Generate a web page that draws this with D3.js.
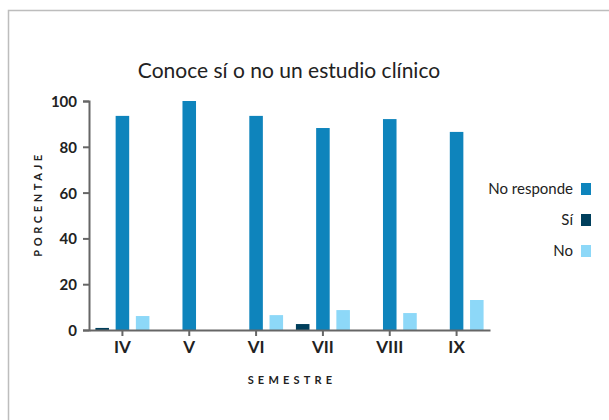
<!DOCTYPE html>
<html>
<head>
<meta charset="utf-8">
<script src="https://cdn.jsdelivr.net/npm/d3@7"></script>
<style>
  body { margin: 0; background: #fff; }
  svg { display: block; font-family: 'Lato', 'Open Sans', sans-serif; }
</style>
</head>
<body>
<svg id="chart"></svg>
<script>
const semesters = ['IV', 'V', 'VI', 'VII', 'VIII', 'IX'];
const seriesNames = ['Sí', 'No responde', 'No'];
const siValues = [0.9, 0, 0, 2.6, 0, 0];
const noRespondeValues = [93.5, 100, 93.5, 88.2, 92.1, 86.5];
const noValues = [6.1, 0, 6.5, 8.7, 7.4, 13.1];
const seriesColors = ['#003F5C', '#0E84BC', '#8DD8F8'];
const yTicks = [0, 20, 40, 60, 80, 100];
const legendOrder = ['No responde', 'Sí', 'No'];

const width = 609, height = 420;
const margin = { left: 89, right: 119, top: 101, bottom: 90 };

const svg = d3.select('#chart').attr('width', width).attr('height', height);

// frame
svg.append('path')
  .attr('d', 'M8.5,' + (height + 5) + ' V10.5 H' + (width + 5))
  .attr('fill', 'none')
  .attr('stroke', '#bdbdbd')
  .attr('stroke-width', 1.5);

const x = d3.scaleBand().domain(semesters).range([margin.left, width - margin.right]);
const xs = d3.scaleBand().domain(seriesNames).range([-27, 27]).paddingInner(0.33);
const y = d3.scaleLinear().domain([0, 100]).range([height - margin.bottom, margin.top]);

const series = [siValues, noRespondeValues, noValues];
const rows = [];
series.forEach(function(vals, i) {
  vals.forEach(function(v, j) {
    rows.push({ sem: semesters[j], name: seriesNames[i], value: v, color: seriesColors[i] });
  });
});

svg.append('g').selectAll('rect')
  .data(rows.filter(function(d) { return d.value > 0; }))
  .enter().append('rect')
  .attr('x', function(d) { return x(d.sem) + x.bandwidth() / 2 + xs(d.name); })
  .attr('width', xs.bandwidth())
  .attr('y', function(d) { return y(d.value); })
  .attr('height', function(d) { return y(0) - y(d.value); })
  .attr('fill', function(d) { return d.color; });

// axes
const yAxis = svg.append('g')
  .attr('transform', 'translate(' + margin.left + ',0)')
  .call(d3.axisLeft(y).tickValues(yTicks).tickSize(6).tickPadding(6));
const xAxis = svg.append('g')
  .attr('transform', 'translate(0,' + y(0) + ')')
  .call(d3.axisBottom(x).tickSize(6).tickPadding(5).tickSizeOuter(0));

[yAxis, xAxis].forEach(function(a) {
  a.select('.domain').attr('stroke', '#666').attr('stroke-width', 2);
  a.selectAll('.tick line').attr('stroke', '#666').attr('stroke-width', 2);
  a.selectAll('.tick text')
    .attr('fill', '#222')
    .style('font-family', 'Lato, sans-serif')
    .style('font-weight', 'bold');
});
yAxis.selectAll('.tick text').style('font-size', '15px').attr('dy', '0.36em');
xAxis.selectAll('.tick text').style('font-size', '17px');

// title
svg.append('text')
  .attr('x', 289)
  .attr('y', 78)
  .attr('text-anchor', 'middle')
  .attr('fill', '#222')
  .style('font-size', '21px')
  .text('Conoce sí o no un estudio clínico');

// axis titles
svg.append('text')
  .attr('transform', 'translate(42,204) rotate(-90)')
  .attr('text-anchor', 'middle')
  .attr('fill', '#222')
  .style('font-size', '11px')
  .style('font-weight', 'bold')
  .style('letter-spacing', '3.6px')
  .text('PORCENTAJE');

svg.append('text')
  .attr('x', 292)
  .attr('y', 384)
  .attr('text-anchor', 'middle')
  .attr('fill', '#222')
  .style('font-size', '11px')
  .style('font-weight', 'bold')
  .style('letter-spacing', '4.2px')
  .text('SEMESTRE');

// legend
const legend = svg.append('g');
const legendY = d3.scalePoint().domain(legendOrder).range([189, 251]);
legendOrder.forEach(function(name) {
  const color = seriesColors[seriesNames.indexOf(name)];
  const ly = legendY(name);
  legend.append('rect')
    .attr('x', 581).attr('y', ly - 6)
    .attr('width', 10).attr('height', 12)
    .attr('fill', color);
  legend.append('text')
    .attr('x', 573).attr('y', ly)
    .attr('dy', '0.36em')
    .attr('text-anchor', 'end')
    .attr('fill', '#222')
    .style('font-size', '15px')
    .text(name);
});
</script>
</body>
</html>
